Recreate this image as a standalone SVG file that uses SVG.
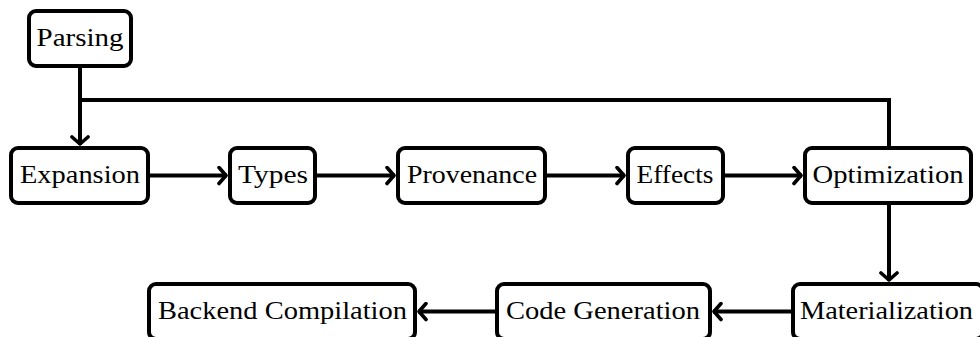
<svg xmlns="http://www.w3.org/2000/svg" width="980" height="337" viewBox="0 0 980 337">
<style>
.box{fill:#fff;stroke:#000;stroke-width:4;}
.lbl{font-family:'Liberation Serif','Times New Roman',serif;font-size:26px;fill:#000;text-anchor:middle;}
.edge{fill:none;stroke:#000;stroke-width:4;}
</style>
<defs>
<marker id="arr" viewBox="-10 -10 12 20" refX="0" refY="0" markerWidth="12" markerHeight="20" markerUnits="userSpaceOnUse" orient="auto">
<path d="M-8,-8 L-1,0 L-8,8" fill="none" stroke="#000" stroke-width="3.6" stroke-linecap="round" stroke-linejoin="round"/>
</marker>
</defs>
<rect width="980" height="337" fill="#fff"/>
<g id="connectors">
<path class="edge" d="M80,68 L80,145" marker-end="url(#arr)"/>
<path class="edge" d="M80,100 L889,100 L889,147"/>
<path class="edge" d="M150,175.5 L227,175.5" marker-end="url(#arr)"/>
<path class="edge" d="M317,175.5 L395,175.5" marker-end="url(#arr)"/>
<path class="edge" d="M547,175.5 L625,175.5" marker-end="url(#arr)"/>
<path class="edge" d="M725,175.5 L802,175.5" marker-end="url(#arr)"/>
<path class="edge" d="M889,205 L889,281" marker-end="url(#arr)"/>
<path class="edge" d="M791,311.5 L713,311.5" marker-end="url(#arr)"/>
<path class="edge" d="M495,311.5 L418,311.5" marker-end="url(#arr)"/>
</g>
<g id="parsing">
<rect class="box" x="29" y="11" width="102" height="55" rx="7"/>
<text class="lbl" x="80" y="46" textLength="87" lengthAdjust="spacingAndGlyphs">Parsing</text>
</g>
<g id="expansion">
<rect class="box" x="11" y="148" width="137" height="55" rx="7"/>
<text class="lbl" x="80" y="182.5" textLength="120" lengthAdjust="spacingAndGlyphs">Expansion</text>
</g>
<g id="types">
<rect class="box" x="230" y="148" width="85" height="55" rx="7"/>
<text class="lbl" x="273" y="182.5" textLength="70" lengthAdjust="spacingAndGlyphs">Types</text>
</g>
<g id="provenance">
<rect class="box" x="398" y="148" width="147" height="55" rx="7"/>
<text class="lbl" x="472" y="182.5" textLength="130" lengthAdjust="spacingAndGlyphs">Provenance</text>
</g>
<g id="effects">
<rect class="box" x="628" y="148" width="95" height="55" rx="7"/>
<text class="lbl" x="675" y="182.5" textLength="77" lengthAdjust="spacingAndGlyphs">Effects</text>
</g>
<g id="optimization">
<rect class="box" x="805" y="148" width="166" height="55" rx="7"/>
<text class="lbl" x="888" y="182.5" textLength="151" lengthAdjust="spacingAndGlyphs">Optimization</text>
</g>
<g id="materialization">
<rect class="box" x="793" y="284" width="190" height="55" rx="7"/>
<text class="lbl" x="886.5" y="319" textLength="173" lengthAdjust="spacingAndGlyphs">Materialization</text>
</g>
<g id="codegen">
<rect class="box" x="497" y="284" width="213" height="55" rx="7"/>
<text class="lbl" x="603" y="319" textLength="194" lengthAdjust="spacingAndGlyphs">Code Generation</text>
</g>
<g id="backend">
<rect class="box" x="149" y="284" width="266" height="55" rx="7"/>
<text class="lbl" x="282.5" y="319" textLength="249" lengthAdjust="spacingAndGlyphs">Backend Compilation</text>
</g>
</svg>
